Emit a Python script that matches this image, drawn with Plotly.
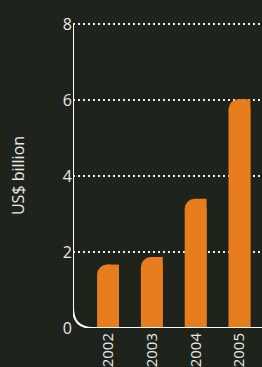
import plotly.graph_objects as go

years = ["2002", "2003", "2004", "2005"]
values = [1.67, 1.87, 3.4, 6.02]
y_ticks = [0, 2, 4, 6, 8]

BG = "#1e231c"
ORANGE = "#e87d1e"
TXT = "#e8e8e8"

fig = go.Figure()
# rounded bar (top-left corner rounded)
fig.add_trace(go.Bar(x=years, y=values, width=0.5, marker=dict(color=ORANGE, cornerradius=10, line=dict(width=0)),
                     hoverinfo="skip"))
# right half square, to keep top-right corner square
fig.add_trace(go.Bar(x=years, y=values, width=0.25, offset=0, marker=dict(color=ORANGE, line=dict(width=0)),
                     hoverinfo="skip"))

fig.update_layout(
    width=262, height=367,
    paper_bgcolor=BG, plot_bgcolor=BG,
    margin=dict(l=73, r=0, t=23, b=39, autoexpand=False),
    showlegend=False, barmode="overlay",
    font=dict(family="Open Sans", color=TXT, size=15),
)
fig.update_xaxes(type="category", range=[-0.8, 3.515], showgrid=False, showline=False, zeroline=False,
                 tickangle=-90, tickfont=dict(size=15, color=TXT), ticks="", ticklabelstandoff=1,
                 automargin=False)
fig.update_yaxes(range=[0, 8.03], tickvals=y_ticks, ticktext=[str(v) for v in y_ticks],
                 showgrid=True, gridcolor="#f0f0f0", gridwidth=2, griddash="2px,3px",
                 zeroline=False, showline=False, ticks="", tickfont=dict(size=16, color=TXT),
                 title=dict(text="US$ billion", font=dict(size=16, color=TXT), standoff=34), automargin=False)

# rounded axis corner line
fig.add_shape(type="path", xref="x", yref="y", xsizemode="pixel", ysizemode="pixel",
              xanchor=-0.8, yanchor=0,
              path="M 0,310 L 0,20 Q 0,0 20,0 L 200,0",
              line=dict(color="white", width=2), layer="above")

fig.write_html("out.html", config={"displayModeBar": False},
               post_script="document.body.style.margin='0';document.body.style.background='%s';" % BG)
